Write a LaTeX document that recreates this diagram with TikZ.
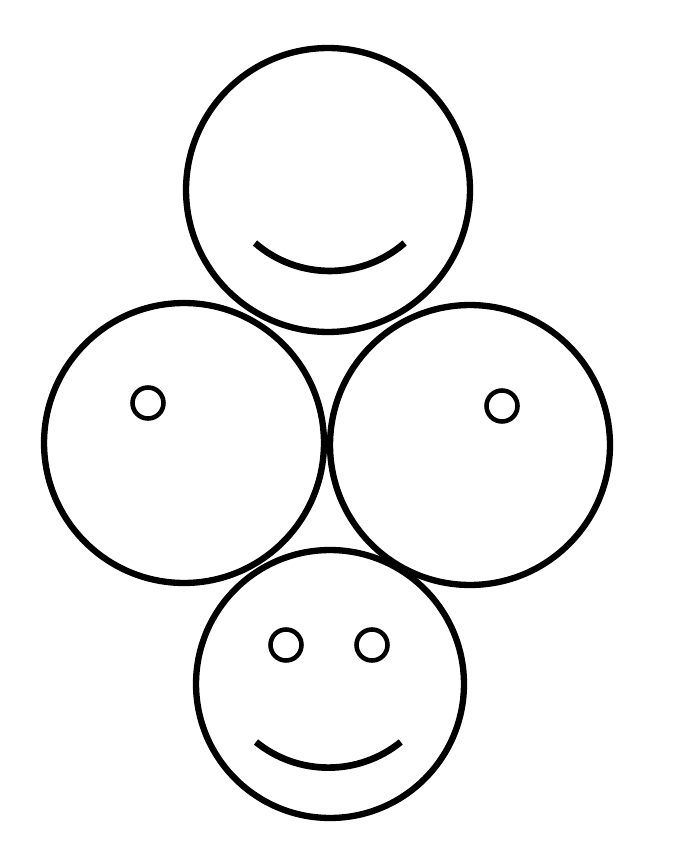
\documentclass[tikz,border=0pt]{standalone}
\usetikzlibrary{positioning}

\begin{document}
\begin{tikzpicture}[x=0.02cm, y=-0.02cm,
          % 1. Caras grandes
          face/.style={
              circle,
              draw=black,
              line width=3.6pt,
              inner sep=0pt
          },
          % 2. Ojos pequeños
          eye/.style={circle, draw=black, line width=2.6pt, inner sep=0pt, minimum size=0.62cm},
          % 3. Sonrisas
          mouth/.style={draw=black, line width=3.8pt}
      ]
      \useasboundingbox (0,0) rectangle (698,864);

      % === CARAS ===
      \node[face, minimum size=5.68cm] (top) at (328,190) {};
      \node[face, minimum size=5.6cm] (left) at (184,443) {};
      \node[face, minimum size=5.6cm] (right) at (470,445) {};
      \node[face, minimum size=5.36cm] (bottom) at (330,684) {};

      % === OJOS ===
      \node[eye] (lefteye) at (148,403) {};
      \node[eye] (righteye) at (502,406) {};
      \node[eye] (botleye) at (286,645) {};
      \node[eye] (botreye) at (372,645) {};

      % === SONRISAS ===
      \draw[mouth] (255,243) arc[start angle=131, end angle=49, radius=114];
      \draw[mouth] (256,742) arc[start angle=129, end angle=51, radius=115];

      \end{tikzpicture}
\end{document}
